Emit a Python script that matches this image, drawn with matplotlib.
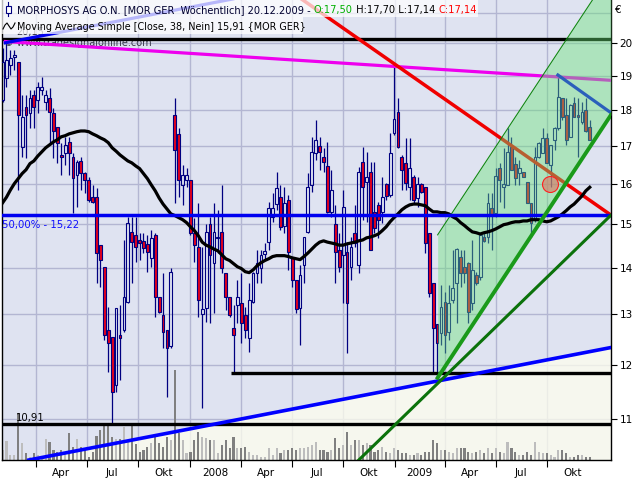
import matplotlib
matplotlib.use('Agg')
import matplotlib.pyplot as plt
import matplotlib.dates as mdates
import matplotlib.transforms as mtransforms
from matplotlib.patches import Rectangle
from matplotlib.lines import Line2D
from matplotlib.ticker import NullLocator
import numpy as np
import pandas as pd

plt.rcParams['font.family'] = ['DejaVu Sans']

# ---- weekly OHLC, MORPHOSYS AG (Feb 2007 - Dec 2009) ----
opens = [18.28, 18.93, 19.33, 19.57, 19.42, 16.96, 18.07, 17.91, 18.42, 18.28,
         18.57, 18.22, 18.34, 17.91, 17.51, 16.75, 16.80, 17.10, 16.70, 16.23,
         16.59, 16.28, 16.10, 15.66, 15.66, 14.51, 14.02, 12.68, 12.54, 11.62,
         12.58, 12.68, 13.26, 14.82, 14.75, 14.63, 14.61, 14.54, 14.22, 14.75,
         13.37, 12.99, 12.68, 12.35, 17.85, 17.32, 15.97, 16.10, 16.10, 14.80,
         14.47, 13.01, 13.13, 15.00, 14.11, 14.68, 14.82, 13.89, 13.37, 12.72,
         13.19, 13.24, 12.99, 12.52, 13.26, 13.89, 14.00, 14.31, 14.58, 15.18,
         15.49, 15.66, 14.96, 15.59, 14.22, 13.73, 13.13, 14.07, 14.82, 15.97,
         16.80, 16.99, 16.70, 16.46, 15.30, 15.00, 14.40, 14.29, 14.35, 14.02,
         14.80, 14.07, 16.57, 16.05, 16.31, 15.30, 15.47, 15.30, 16.00, 15.71,
         17.35, 17.93, 16.70, 16.54, 15.92, 16.18, 15.64, 16.00, 15.92, 14.80,
         13.67, 12.81, 12.62, 13.26, 12.64, 13.30, 13.67, 14.24, 14.02, 14.11,
         13.24, 13.84, 13.80, 14.70, 14.70, 15.40, 15.28, 16.41, 15.92, 15.97,
         16.96, 16.52, 16.28, 16.31, 16.05, 15.52, 15.11, 16.70, 16.80, 17.21,
         16.49, 17.16, 17.49, 18.34, 17.85, 17.24, 18.19, 17.85, 17.65, 17.99,
         17.50]
highs = [19.86, 20.02, 19.79, 19.79, 19.42, 18.42, 18.42, 18.57, 18.57, 18.81,
         18.96, 18.57, 18.63, 18.04, 17.51, 17.07, 17.24, 17.24, 16.80, 16.62,
         16.70, 16.31, 16.18, 15.97, 15.89, 14.51, 14.02, 13.15, 12.54, 13.13,
         13.19, 14.63, 15.18, 15.18, 15.18, 14.80, 14.80, 14.75, 14.87, 14.80,
         13.37, 13.89, 12.68, 14.00, 18.34, 17.49, 16.49, 16.41, 16.10, 15.16,
         15.52, 14.47, 15.00, 15.18, 15.52, 15.35, 15.97, 13.89, 13.37, 13.19,
         13.73, 13.89, 13.15, 13.67, 13.91, 14.40, 14.40, 14.56, 15.54, 15.76,
         16.31, 15.97, 15.92, 15.71, 14.22, 13.73, 14.07, 14.70, 16.28, 17.24,
         17.71, 17.24, 16.94, 17.10, 16.36, 15.47, 14.80, 15.84, 14.58, 14.70,
         15.47, 16.44, 16.96, 16.83, 16.57, 16.57, 15.54, 16.18, 16.02, 17.35,
         19.27, 18.34, 16.75, 17.21, 17.21, 16.23, 16.18, 16.02, 15.92, 14.80,
         13.67, 12.81, 13.62, 13.47, 13.62, 14.40, 14.45, 14.40, 14.40, 14.13,
         14.63, 13.91, 14.75, 14.80, 15.76, 15.76, 16.41, 16.54, 16.94, 17.49,
         17.24, 16.70, 16.62, 16.31, 16.05, 15.52, 16.96, 17.10, 17.49, 17.35,
         17.02, 17.51, 19.02, 18.34, 18.34, 18.16, 18.37, 18.34, 18.22, 18.34,
         17.70]
lows = [18.22, 18.66, 19.02, 19.18, 15.84, 16.70, 16.67, 17.49, 17.49, 17.91,
        18.42, 17.99, 17.07, 16.67, 16.54, 16.23, 16.49, 16.23, 15.28, 15.42,
        15.84, 15.76, 15.54, 15.51, 13.67, 13.58, 12.48, 11.86, 10.91, 11.49,
        11.71, 12.64, 13.24, 13.67, 14.13, 14.18, 14.33, 13.91, 14.02, 12.95,
        13.03, 12.33, 11.40, 12.33, 15.52, 15.66, 15.47, 15.92, 14.75, 14.13,
        12.95, 11.20, 12.85, 12.83, 13.03, 14.33, 13.89, 13.09, 12.95, 11.84,
        12.83, 12.42, 12.52, 12.25, 13.24, 13.67, 13.67, 14.18, 14.40, 15.06,
        15.35, 14.87, 14.80, 13.95, 13.58, 13.03, 12.37, 13.67, 14.80, 15.79,
        16.62, 16.36, 16.31, 15.28, 15.18, 13.67, 13.91, 13.24, 12.23, 13.73,
        14.47, 13.89, 15.11, 15.06, 14.40, 14.80, 14.68, 15.04, 15.59, 15.66,
        17.29, 16.94, 15.84, 15.84, 15.59, 15.52, 15.42, 15.76, 14.33, 13.37,
        11.84, 11.75, 12.37, 12.23, 12.48, 13.24, 12.83, 13.58, 13.67, 12.83,
        13.09, 13.62, 13.73, 14.58, 14.56, 14.40, 15.18, 15.54, 15.40, 15.97,
        16.36, 15.97, 15.97, 16.18, 15.52, 14.70, 15.06, 16.67, 16.80, 16.54,
        15.92, 16.88, 17.43, 17.71, 17.02, 17.24, 17.79, 16.70, 17.60, 17.38,
        17.14]
closes = [19.42, 19.48, 19.54, 19.64, 17.85, 17.79, 17.85, 18.34, 18.07, 18.66,
          18.66, 18.42, 17.93, 17.40, 17.07, 16.70, 17.02, 16.80, 16.15, 16.57,
          16.28, 16.10, 15.59, 15.54, 14.33, 14.18, 12.58, 12.42, 11.49, 13.13,
          12.52, 13.37, 15.04, 14.58, 14.47, 14.56, 14.45, 14.35, 14.68, 13.37,
          13.05, 12.64, 12.33, 13.91, 16.88, 16.10, 16.23, 16.23, 14.80, 14.51,
          13.30, 13.11, 14.82, 14.29, 14.82, 14.70, 14.00, 13.37, 12.99, 12.58,
          13.37, 12.83, 12.68, 13.30, 13.89, 14.11, 14.29, 14.38, 15.40, 15.40,
          15.89, 14.94, 15.52, 14.35, 13.73, 13.11, 13.84, 14.70, 15.92, 16.83,
          17.16, 16.83, 16.57, 15.30, 15.84, 14.35, 14.02, 15.42, 13.24, 14.47,
          14.56, 16.31, 15.92, 16.18, 14.40, 14.92, 15.11, 15.66, 15.69, 16.80,
          17.74, 16.96, 16.36, 16.02, 16.41, 15.59, 16.00, 15.79, 14.56, 13.45,
          12.72, 12.42, 13.15, 12.58, 13.24, 13.56, 14.42, 13.89, 13.89, 13.05,
          13.95, 13.67, 14.75, 14.61, 15.52, 15.23, 16.20, 16.10, 16.00, 16.83,
          16.36, 16.15, 16.41, 16.18, 15.52, 15.04, 16.70, 17.07, 17.21, 16.54,
          17.02, 17.49, 18.37, 17.79, 17.16, 18.13, 17.79, 17.79, 17.93, 17.40,
          17.14]
# 38-week simple moving average of the close
ma38 = [15.52, 15.66, 15.84, 16.00, 16.13, 16.26, 16.36, 16.52, 16.59, 16.72,
        16.83, 16.94, 17.02, 17.10, 17.16, 17.24, 17.27, 17.32, 17.35, 17.38,
        17.40, 17.40, 17.38, 17.32, 17.27, 17.21, 17.16, 17.08, 16.94, 16.85,
        16.75, 16.67, 16.59, 16.54, 16.46, 16.39, 16.26, 16.13, 15.97, 15.82,
        15.64, 15.49, 15.37, 15.25, 15.21, 15.16, 15.11, 15.04, 14.94, 14.85,
        14.73, 14.58, 14.51, 14.47, 14.42, 14.38, 14.29, 14.20, 14.16, 14.09,
        14.02, 13.98, 13.91, 13.89, 13.95, 14.04, 14.11, 14.16, 14.20, 14.25,
        14.27, 14.27, 14.27, 14.25, 14.22, 14.20, 14.18, 14.25, 14.33, 14.42,
        14.51, 14.58, 14.61, 14.58, 14.56, 14.54, 14.51, 14.51, 14.54, 14.56,
        14.58, 14.61, 14.63, 14.68, 14.70, 14.73, 14.77, 14.85, 14.94, 15.06,
        15.16, 15.25, 15.35, 15.42, 15.47, 15.49, 15.49, 15.47, 15.45, 15.37,
        15.30, 15.30, 15.28, 15.28, 15.25, 15.18, 15.13, 15.04, 14.97, 14.89,
        14.82, 14.80, 14.77, 14.80, 14.82, 14.85, 14.89, 14.94, 14.99, 15.01,
        15.04, 15.06, 15.06, 15.08, 15.08, 15.11, 15.11, 15.11, 15.08, 15.06,
        15.08, 15.13, 15.18, 15.25, 15.33, 15.42, 15.49, 15.59, 15.69, 15.82,
        15.91]
# weekly volume (relative units)
volume = [10, 19, 5, 5, 47, 17, 7, 3, 7, 5, 3, 21, 18, 10, 8, 10, 8, 27, 13, 21,
          13, 12, 3, 8, 24, 30, 36, 36, 23, 21, 21, 33, 18, 36, 16, 8, 10, 13, 17, 23,
          17, 13, 23, 20, 90, 27, 20, 7, 8, 20, 28, 23, 22, 20, 20, 7, 15, 20, 12, 23,
          12, 12, 13, 8, 5, 5, 3, 3, 12, 5, 12, 7, 10, 10, 12, 10, 12, 12, 13, 15,
          18, 10, 10, 8, 10, 22, 12, 15, 28, 15, 20, 20, 15, 17, 15, 8, 10, 13, 8, 7,
          12, 10, 7, 7, 5, 5, 7, 5, 8, 8, 20, 17, 10, 10, 8, 7, 12, 12, 12, 8,
          7, 8, 10, 7, 12, 7, 12, 8, 7, 18, 12, 8, 5, 5, 8, 5, 18, 8, 7, 7,
          5, 3, 10, 10, 7, 3, 3, 5, 5, 3, 3]

# ---- drawn studies (dates / price levels) ----
right_edge = '2010-01-23'
res_level = 20.15
low_level = 10.91
fib_level = 15.22
support2_level = 11.84
support2_start = '2008-03-14'
magenta_dates = ['2007-02-05', right_edge]
magenta_prices = [20.06, 18.86]
red_dates = ['2008-07-18', right_edge]
red_prices = [21.47, 15.22]
blue_down_dates = ['2009-10-20', right_edge]
blue_down_prices = [19.02, 17.91]
support_dates = ['2007-03-19', right_edge]
support_prices = [10.31, 12.33]
support_top_prices = [20.02, 24.10]
support_top_dates = ['2007-02-05', right_edge]
dkgreen_dates = ['2008-10-29', right_edge]
dkgreen_prices = [10.31, 15.22]
channel_dates = ['2009-03-19', right_edge]
channel_low = [11.75, 17.85]
channel_high = [14.75, 22.41]
marker_date = '2009-10-06'
marker_price = 16.0

quarter_starts = pd.date_range('2007-04-01', '2009-10-01', freq='QS')
quarter_labels = ['Apr', 'Jul', 'Okt', '2008', 'Apr', 'Jul', 'Okt', '2009', 'Apr', 'Jul', 'Okt']
price_ticks = [11, 12, 13, 14, 15, 16, 17, 18, 19, 20]
grid_levels = [11, 12, 13, 14, 15, 16, 17, 18, 19, 20, 21]

weeks = pd.date_range(end='2009-12-16', periods=len(closes), freq='7D')


def dn(d):
    return mdates.date2num(pd.to_datetime(d))


navy = '#000080'
red = '#e4001c'
gridc = '#b3b6d2'

fig = plt.figure(figsize=(6.4, 4.8), dpi=100)
ax = fig.add_axes([2 / 640, 20 / 480, 609 / 640, 460 / 480])
ax.set_facecolor('#dfe3f1')
ax.set_yscale('log')


def fx(px):
    return px / 640


def fy(py):
    return 1 - py / 480


xs = dn(weeks)
o = np.array(opens)
c = np.array(closes)
h = np.array(highs)
l = np.array(lows)
up = c >= o
b_lo = np.minimum(o, c)
b_hi = np.maximum(o, c)

# grid
for lv in grid_levels:
    ax.axhline(lv, color=gridc, lw=1.0, zorder=0.6)
for q in quarter_starts:
    ax.axvline(dn(q), color=gridc, lw=1.0, zorder=0.6)

# cream area below rising support line
ax.fill_between(dn(support_dates), [9.0, 9.0], support_prices,
                color='#ffffee', alpha=0.75, lw=0, zorder=1)

# volume
vol_tf = mtransforms.blended_transform_factory(ax.transData, ax.transAxes)
vol_colors = np.where(up, '#bdbdbd', '#808080')
ax.bar(xs, np.array(volume) / 460.0, width=3.8, bottom=0, color=vol_colors,
       transform=vol_tf, zorder=2, lw=0)

# watermark and hidden level label
ax.text(fx(4), fy(45.5), '\u00a9 www.tradesignalonline.com', transform=fig.transFigure,
        fontsize=7.0, color='#3a3a4a', va='baseline', zorder=3.5)
ax.text(fx(16), fy(35), '20,15', transform=fig.transFigure,
        fontsize=7.0, color='#303040', va='baseline', zorder=3.5)

# candles
ax.vlines(xs, b_hi, h, color=navy, lw=0.9, zorder=3)
ax.vlines(xs, l, b_lo, color=navy, lw=0.9, zorder=3)
ax.bar(xs[~up], (b_hi - b_lo)[~up], bottom=b_lo[~up], width=5.0,
       facecolor=red, edgecolor=navy, lw=0.8, zorder=3.1)
ax.bar(xs[up], (b_hi - b_lo)[up], bottom=b_lo[up], width=5.0,
       facecolor='none', edgecolor=navy, lw=0.8, zorder=3.1)

# horizontal levels
ax.axhline(res_level, color='black', lw=2.4, zorder=4)
ax.axhline(low_level, color='black', lw=2.4, zorder=4)
ax.hlines(support2_level, dn(support2_start), dn(right_edge), color='black', lw=2.4, zorder=4)

# trend lines under the channel shading
ax.plot(dn(magenta_dates), magenta_prices, color='#ee00ee', lw=2.3, zorder=4)
ax.plot(dn(red_dates), red_prices, color='#f00000', lw=2.5, zorder=4)
ax.plot(dn(blue_down_dates), blue_down_prices, color='#0000ee', lw=2.3, zorder=4)
ax.plot(dn(support_top_dates), support_top_prices, color='#0000ee', lw=2.3, zorder=4)

# green channel
ax.fill_between(dn(channel_dates), channel_low, channel_high,
                color='#69e576', alpha=0.42, lw=0, zorder=5)
ax.plot(dn(channel_dates), channel_high, color='#108a10', lw=0.8, zorder=5.5)

# moving average and lines on top
ax.plot(xs, ma38, color='black', lw=2.3, zorder=6)
ax.axhline(fib_level, color='#0000f0', lw=2.5, zorder=6)
ax.plot(dn(support_dates), support_prices, color='#0000ff', lw=2.6, zorder=6)
ax.plot(dn(dkgreen_dates), dkgreen_prices, color='#0b720b', lw=2.2, zorder=6)
ax.plot(dn(channel_dates), channel_low, color='#1a9a1a', lw=2.8, zorder=6.5)
ax.plot([dn(marker_date)], [marker_price], 'o', ms=11.5,
        mfc=(0.86, 0.45, 0.38, 0.6), mec='#ff2020', mew=0.8, zorder=7)

# level labels
ax.text(fx(16), fy(421), '10,91', transform=fig.transFigure, fontsize=7.3,
        color='black', va='baseline', zorder=8)
ax.text(fx(2), fy(228), '50,00% - 15,22', transform=fig.transFigure, fontsize=7.3,
        color='#1010ff', va='baseline', zorder=8)

# axes
ax.set_xlim(dn('2007-01-30'), dn(right_edge))
ax.set_ylim(10.31, 21.43)
ax.yaxis.tick_right()
ax.yaxis.set_minor_locator(NullLocator())
ax.set_yticks(price_ticks)
ax.set_yticklabels([str(t) for t in price_ticks])
ax.tick_params(axis='y', which='major', direction='out', length=4, width=0.8,
               pad=2, labelsize=7.5, color='black')
ax.set_xticks(dn(quarter_starts))
ax.set_xticklabels([])
mids = quarter_starts + pd.Timedelta(days=45)
ax.set_xticks(dn(mids), minor=True)
ax.set_xticklabels(quarter_labels, minor=True)
ax.tick_params(axis='x', which='major', direction='out', length=5, width=0.8, color='black')
ax.tick_params(axis='x', which='minor', length=0, pad=6, labelsize=7.5)
ax.spines['top'].set_visible(False)
for s in ['left', 'right', 'bottom']:
    ax.spines[s].set_color('black')
    ax.spines[s].set_linewidth(1.0)

fig.text(fx(615), fy(10), '\u20ac', fontsize=7.5, va='center', ha='left')

# legend box
fig.patches.append(Rectangle((fx(1), fy(17)), 477 / 640, 17 / 480, transform=fig.transFigure,
                             fc='white', ec='none', alpha=0.72, zorder=10))
fig.patches.append(Rectangle((fx(1), fy(34)), 302 / 640, 17 / 480, transform=fig.transFigure,
                             fc='white', ec='none', alpha=0.72, zorder=10))
# icons
fig.lines.append(Line2D([fx(8), fx(8)], [fy(2), fy(16)], color=navy, lw=0.8,
                        transform=fig.transFigure, zorder=11))
fig.patches.append(Rectangle((fx(5.5), fy(12.5)), 5 / 640, 7 / 480, transform=fig.transFigure,
                             fc='white', ec=navy, lw=0.8, zorder=11))
wave_x = [3, 5, 7, 9, 11, 13, 15]
wave_y = [29, 25, 23, 26, 29, 27, 23]
fig.lines.append(Line2D([fx(v) for v in wave_x], [fy(v) for v in wave_y], color='black', lw=0.8,
                        transform=fig.transFigure, zorder=11))


def fmt(v):
    return f'{v:.2f}'.replace('.', ',')


renderer = fig.canvas.get_renderer()


def put_parts(parts, x, y, size):
    for s, col in parts:
        t = fig.text(fx(x), fy(y), s, color=col, fontsize=size, va='baseline', ha='left', zorder=12)
        x += t.get_window_extent(renderer=renderer).width


put_parts([('MORPHOSYS AG O.N. [MOR GER  W\u00f6chentlich] 20.12.2009 - ', '#000030'),
           ('O:' + fmt(opens[-1]), '#00b000'),
           (' H:' + fmt(highs[-1]) + ' L:' + fmt(lows[-1]) + ' ', 'black'),
           ('C:' + fmt(closes[-1]), '#ff0000')], 17, 13.5, 7.1)
put_parts([('Moving Average Simple [Close, 38, Nein] ' + fmt(ma38[-1]) + ' {MOR GER}', 'black')],
          17, 30, 6.95)

fig.savefig('out.png', dpi=100)
